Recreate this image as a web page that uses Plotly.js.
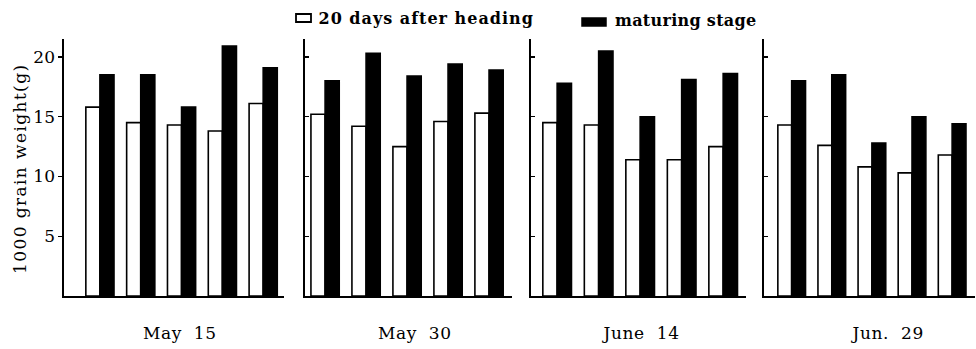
<!DOCTYPE html>
<html>
<head>
<meta charset="utf-8">
<script src="https://cdn.plot.ly/plotly-3.0.1.min.js"></script>
<style>
  html, body { margin: 0; padding: 0; background: #fff; }
  #chart { width: 976px; height: 349px; }
  /* slightly open letter spacing for the axis title and legend captions */
  .annotation[data-index="4"] text { letter-spacing: 1.4px; }
  .annotation[data-index="5"] text { letter-spacing: 1px; }
  .annotation[data-index="6"] text { letter-spacing: 0.3px; }
  .annotation[data-index="0"] text,
  .annotation[data-index="1"] text,
  .annotation[data-index="2"] text,
  .annotation[data-index="3"] text { letter-spacing: 0.6px; }
</style>
</head>
<body>
<div id="chart"></div>
<script>
// Sowing dates (one panel each) and the five entries within a panel
const sowingDates = ['May\u00a0\u00a015', 'May\u00a0\u00a030', 'June\u00a0\u00a014', 'Jun.\u00a0\u00a029'];
const entries = [0, 1, 2, 3, 4];

// 1000 grain weight (g), 20 days after heading
const after20May15 = [15.8, 14.5, 14.3, 13.8, 16.1];
const after20May30 = [15.2, 14.2, 12.5, 14.6, 15.3];
const after20Jun14 = [14.5, 14.3, 11.4, 11.4, 12.5];
const after20Jun29 = [14.3, 12.6, 10.8, 10.3, 11.8];

// 1000 grain weight (g), maturing stage
const maturingMay15 = [18.5, 18.5, 15.8, 20.9, 19.1];
const maturingMay30 = [18.0, 20.3, 18.4, 19.4, 18.9];
const maturingJun14 = [17.8, 20.5, 15.0, 18.1, 18.6];
const maturingJun29 = [18.0, 18.5, 12.8, 15.0, 14.4];

const yTicks = [5, 10, 15, 20];
const legendNames = ['20 days after heading', 'maturing stage'];

const after20 = [after20May15, after20May30, after20Jun14, after20Jun29];
const maturing = [maturingMay15, maturingMay30, maturingJun14, maturingJun29];

const W = 976, H = 349;
const px = v => v / W;
const py = v => (H - v) / H;

// panel frames in pixels: left edge, right edge, category range
const frames = [
  { l: 64,  r: 284, range: [-0.88, 4.51], label: 180 },
  { l: 305, r: 512, range: [-0.49, 4.56], label: 415 },
  { l: 531, r: 746, range: [-0.63, 4.55], label: 640 },
  { l: 764, r: 975, range: [-0.69, 4.57], label: 887 }
];

const serif = 'DejaVu Serif, Liberation Serif, serif';
const data = [];
const layout = {
  width: W, height: H,
  margin: { l: 0, r: 0, t: 0, b: 0 },
  paper_bgcolor: '#fff', plot_bgcolor: 'rgba(0,0,0,0)',
  showlegend: false,
  barmode: 'group', bargap: 0.31, bargroupgap: 0,
  font: { family: serif, size: 17, color: '#000' },
  annotations: [], shapes: []
};

frames.forEach((f, i) => {
  const n = i === 0 ? '' : String(i + 1);
  data.push({
    type: 'bar', x: entries, y: after20[i], name: legendNames[0],
    xaxis: 'x' + n, yaxis: 'y' + n,
    marker: { color: '#fff', line: { color: '#000', width: 1.6 } }
  });
  data.push({
    type: 'bar', x: entries, y: maturing[i], name: legendNames[1],
    xaxis: 'x' + n, yaxis: 'y' + n,
    marker: { color: '#000', line: { color: '#000', width: 1.6 } }
  });
  layout['xaxis' + n] = {
    domain: [px(f.l), px(f.r)], range: f.range, anchor: 'y' + n,
    showline: true, linecolor: '#000', linewidth: 1.6,
    showgrid: false, zeroline: false, ticks: '', showticklabels: false,
    fixedrange: true
  };
  layout['yaxis' + n] = {
    domain: [py(296), py(39)], range: [0, 21.5], anchor: 'x' + n,
    showline: true, linecolor: '#000', linewidth: 1.6,
    showgrid: false, zeroline: false,
    tickmode: 'array', tickvals: yTicks, ticktext: yTicks.map(String),
    ticks: i === 0 ? 'outside' : 'inside', ticklen: 4, tickwidth: 1.4, tickcolor: '#000',
    showticklabels: i === 0,
    tickfont: { family: serif, size: 17, color: '#000' },
    fixedrange: true
  };
  layout.annotations.push({
    xref: 'paper', yref: 'paper', x: px(f.label), y: py(333),
    xanchor: 'center', yanchor: 'middle', showarrow: false,
    text: sowingDates[i], font: { family: serif, size: 17, color: '#000' }
  });
});

// axis title
layout.annotations.push({
  xref: 'paper', yref: 'paper', x: px(20), y: py(169),
  xanchor: 'center', yanchor: 'middle', showarrow: false, textangle: -90,
  text: '1000 grain weight(g)', font: { family: serif, size: 17, color: '#000' }
});

// legend
layout.shapes.push({
  type: 'rect', xref: 'paper', yref: 'paper',
  x0: px(296), x1: px(311), y0: py(22), y1: py(14),
  fillcolor: '#fff', line: { color: '#000', width: 1.8 }
});
layout.shapes.push({
  type: 'rect', xref: 'paper', yref: 'paper',
  x0: px(582), x1: px(606), y0: py(26), y1: py(18),
  fillcolor: '#000', line: { color: '#000', width: 1.5 }
});
layout.annotations.push({
  xref: 'paper', yref: 'paper', x: px(426), y: py(18.5),
  xanchor: 'center', yanchor: 'middle', showarrow: false,
  text: '<b>' + legendNames[0] + '</b>', font: { family: serif, size: 16, color: '#000' }
});
layout.annotations.push({
  xref: 'paper', yref: 'paper', x: px(685), y: py(21),
  xanchor: 'center', yanchor: 'middle', showarrow: false,
  text: '<b>' + legendNames[1] + '</b>', font: { family: serif, size: 16, color: '#000' }
});

Plotly.newPlot('chart', data, layout, { staticPlot: true, displayModeBar: false });
</script>
</body>
</html>
